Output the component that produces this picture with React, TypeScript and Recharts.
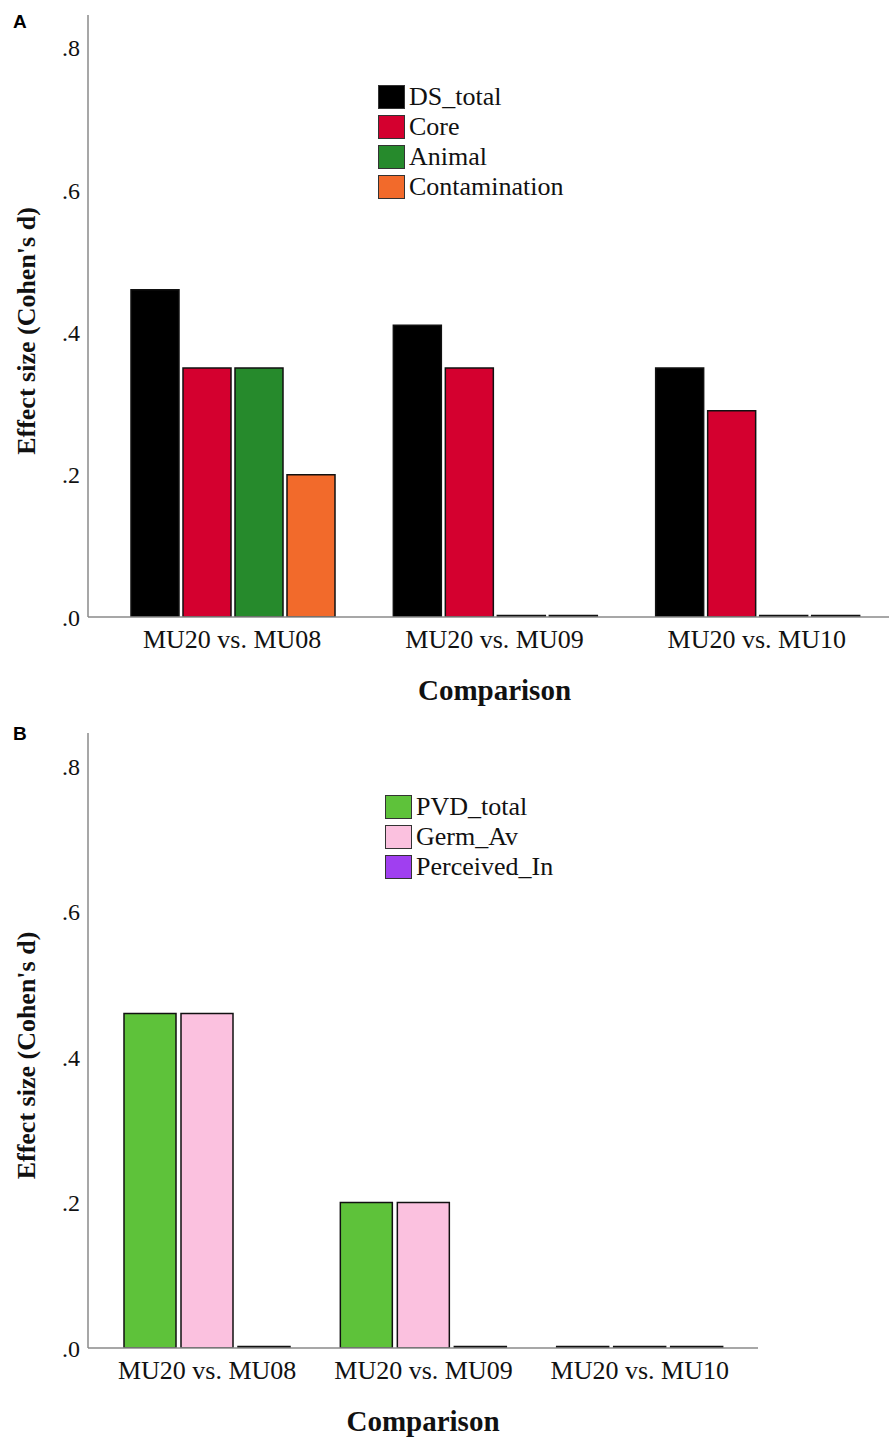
import { BarChart, Bar, XAxis, YAxis, Label } from "recharts";

const comparisons = ["MU20 vs. MU08", "MU20 vs. MU09", "MU20 vs. MU10"];

// panel A
const dsTotal = [0.46, 0.41, 0.35];
const core = [0.35, 0.35, 0.29];
const animal = [0.35, 0, 0];
const contamination = [0.2, 0, 0];

// panel B
const pvdTotal = [0.46, 0.2, 0];
const germAv = [0.46, 0.2, 0];
const perceivedIn = [0, 0, 0];

const yTicks = [0, 0.2, 0.4, 0.6, 0.8];

const seriesA = [
  { key: "DS_total", values: dsTotal, color: "#000000" },
  { key: "Core", values: core, color: "#d4002f" },
  { key: "Animal", values: animal, color: "#268a2c" },
  { key: "Contamination", values: contamination, color: "#f26a2b" },
];

const seriesB = [
  { key: "PVD_total", values: pvdTotal, color: "#5ec23a" },
  { key: "Germ_Av", values: germAv, color: "#fbc1df" },
  { key: "Perceived_In", values: perceivedIn, color: "#a03ff0" },
];

type Series = { key: string; values: number[]; color: string };

const buildRows = (series: Series[]) =>
  comparisons.map((c, i) => {
    const row: Record<string, string | number> = { name: c };
    series.forEach((s) => (row[s.key] = s.values[i]));
    return row;
  });

const serif = "'Liberation Serif', 'Times New Roman', serif";
const fmt = (v: number) => v.toFixed(1).replace(/^0/, "");

const YTitle = (props: any) => {
  const vb = props.viewBox;
  const cx = 26;
  const cy = vb.y + vb.height / 2 + 15;
  return (
    <text
      x={cx}
      y={cy}
      transform={`rotate(-90 ${cx} ${cy})`}
      textAnchor="middle"
      dominantBaseline="central"
      fontFamily={serif}
      fontWeight="bold"
      fontSize={26}
      fill="#111"
    >
      Effect size (Cohen's d)
    </text>
  );
};

const XTitle = (props: any) => {
  const vb = props.viewBox;
  return (
    <text
      x={vb.x + vb.width / 2 + props.shift}
      y={vb.y + 73}
      textAnchor="middle"
      dominantBaseline="central"
      fontFamily={serif}
      fontWeight="bold"
      fontSize={29}
      fill="#111"
    >
      Comparison
    </text>
  );
};

const LegendBox = ({ series, left, top, sw, sh }: { series: Series[]; left: number; top: number; sw: number; sh: number }) => (
  <div style={{ position: "absolute", left, top, fontFamily: serif, fontSize: 26, color: "#111" }}>
    {series.map((s) => (
      <div key={s.key} style={{ display: "flex", alignItems: "center", height: 30 }}>
        <span
          style={{
            display: "inline-block",
            width: sw,
            height: sh,
            background: s.color,
            border: "1px solid #333",
            boxSizing: "border-box",
            marginRight: 4,
          }}
        />
        <span>{s.key}</span>
      </div>
    ))}
  </div>
);

const Panel = ({
  series,
  width,
  height,
  margin,
  xHeight,
  padding,
  catGap,
  barGap,
  titleShift,
}: {
  series: Series[];
  width: number;
  height: number;
  margin: { top: number; right: number; left: number; bottom: number };
  xHeight: number;
  padding: { left: number; right: number };
  catGap: number;
  barGap: number;
  titleShift: number;
}) => (
  <BarChart width={width} height={height} data={buildRows(series)} margin={margin} barCategoryGap={catGap} barGap={barGap}>
    <XAxis
      dataKey="name"
      height={xHeight}
      padding={padding}
      tickLine={false}
      tickSize={6}
      tickMargin={7}
      axisLine={{ stroke: "#8a8a8a", strokeWidth: 1.5 }}
      tick={{ fontFamily: serif, fontSize: 26, fill: "#111" }}
      interval={0}
    >
      <Label content={(p: any) => <XTitle {...p} shift={titleShift} />} />
    </XAxis>
    <YAxis
      width={88}
      domain={[0, 0.846]}
      ticks={yTicks}
      allowDataOverflow
      tickFormatter={fmt}
      tickLine={false}
      axisLine={{ stroke: "#8a8a8a", strokeWidth: 1.5 }}
      tick={{ fontFamily: serif, fontSize: 24, fill: "#111" }}
    >
      <Label content={(p: any) => <YTitle {...p} />} />
    </YAxis>
    {series.map((s) => (
      <Bar
        key={s.key}
        dataKey={s.key}
        fill={s.color}
        stroke="#111"
        strokeWidth={1.5}
        minPointSize={1.5}
        isAnimationActive={false}
      />
    ))}
  </BarChart>
);

const panelLabel: React.CSSProperties = {
  position: "absolute",
  left: 13,
  fontFamily: "'Liberation Sans', Arial, sans-serif",
  fontWeight: "bold",
  fontSize: 19,
  lineHeight: "19px",
};

export default function App() {
  return (
    <div style={{ position: "absolute", left: 0, top: 0, width: 889, height: 1437, background: "#fff" }}>
      <div style={{ position: "absolute", left: 0, top: 0 }}>
        <Panel
          series={seriesA}
          width={889}
          height={710}
          margin={{ top: 15, right: 0, left: 0, bottom: 0 }}
          xHeight={93}
          padding={{ left: 13, right: 1 }}
          catGap={30}
          barGap={4}
          titleShift={6}
        />
      </div>
      <div style={{ ...panelLabel, top: 12 }}>A</div>
      <LegendBox series={seriesA} left={378} top={82} sw={27} sh={24} />

      <div style={{ position: "absolute", left: 0, top: 710 }}>
        <Panel
          series={seriesB}
          width={889}
          height={727}
          margin={{ top: 23, right: 131, left: 0, bottom: 0 }}
          xHeight={89}
          padding={{ left: 11, right: 10 }}
          catGap={25}
          barGap={5}
          titleShift={0}
        />
      </div>
      <div style={{ ...panelLabel, top: 724 }}>B</div>
      <LegendBox series={seriesB} left={385} top={792} sw={27} sh={24} />
    </div>
  );
}
